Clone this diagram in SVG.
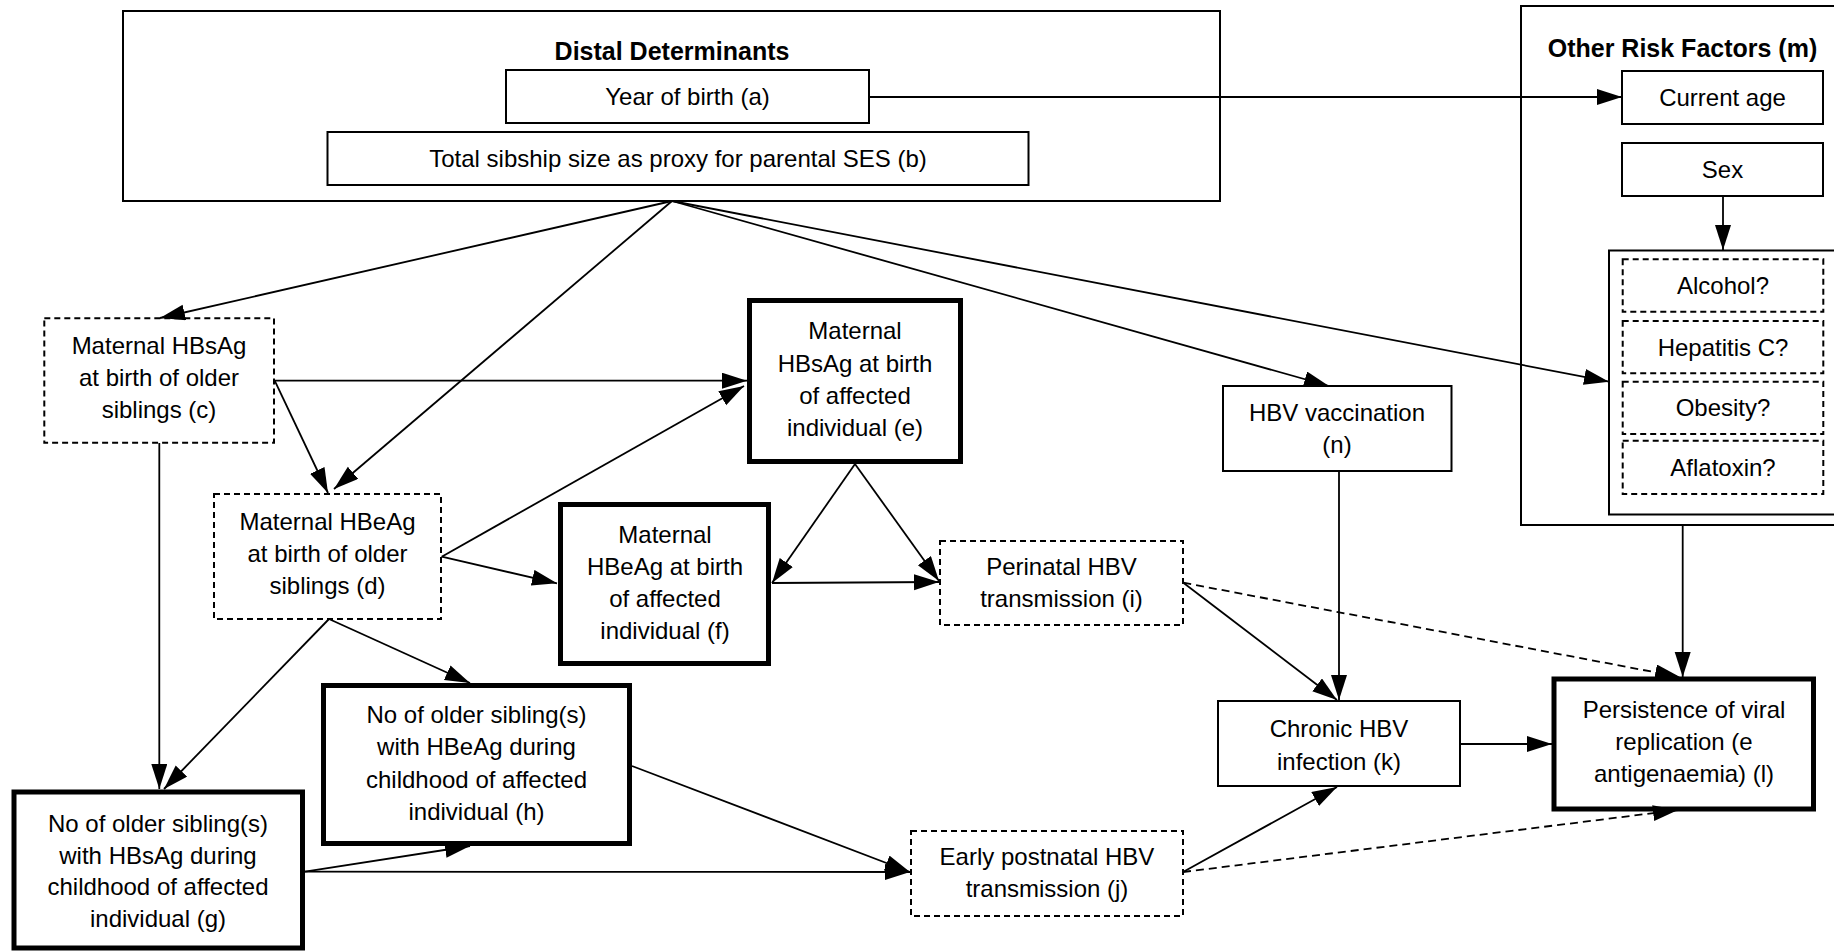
<svg xmlns="http://www.w3.org/2000/svg" width="1834" height="952" viewBox="0 0 1834 952">
<style>
.box{fill:#fff;stroke:#000;stroke-width:2}
.cont{fill:none;stroke:#000;stroke-width:2}
.thick{stroke-width:5}
.dsh{stroke-dasharray:6 4}
text{font-family:"Liberation Sans",Arial,sans-serif;font-size:24px;text-anchor:middle;fill:#000}
.ttl{font-weight:bold;font-size:25px}
.c line{stroke:#000;stroke-width:1.8;fill:none;marker-end:url(#ah)}
.c line.dl{stroke-dasharray:8 5}
</style>
<defs>
<marker id="ah" markerUnits="userSpaceOnUse" markerWidth="26" markerHeight="18" refX="25" refY="8" orient="auto" viewBox="0 0 26 18">
<path d="M0,0 L25,8 L0,16 z" fill="#000" stroke="none"/>
</marker>
</defs>
<rect width="1834" height="952" fill="#fff"/>

<g id="distal">
<rect class="cont" x="123" y="11" width="1097" height="190"/>
<text class="ttl" x="672" y="60">Distal Determinants</text>
</g>
<g id="year">
<rect class="box" x="506" y="70" width="363" height="53"/>
<text x="687.5" y="105">Year of birth (a)</text>
</g>
<g id="sibship">
<rect class="box" x="327.5" y="132" width="701" height="53"/>
<text x="678" y="167">Total sibship size as proxy for parental SES (b)</text>
</g>

<g id="other">
<rect class="cont" x="1521" y="6" width="400" height="519"/>
<text class="ttl" x="1682.5" y="57">Other Risk Factors (m)</text>
</g>
<g id="age">
<rect class="box" x="1622" y="71" width="201" height="53"/>
<text x="1722.5" y="105.5">Current age</text>
</g>
<g id="sex">
<rect class="box" x="1622" y="143" width="201" height="53"/>
<text x="1722.5" y="177.5">Sex</text>
</g>
<g id="lifestyle">
<rect class="box" x="1609" y="250.5" width="300" height="264"/>
<rect class="box dsh" x="1622.7" y="259.3" width="200.6" height="52.4"/>
<text x="1723" y="294">Alcohol?</text>
<rect class="box dsh" x="1622.7" y="321" width="200.6" height="52.3"/>
<text x="1723" y="355.5">Hepatitis C?</text>
<rect class="box dsh" x="1622.7" y="381.7" width="200.6" height="52.3"/>
<text x="1723" y="416">Obesity?</text>
<rect class="box dsh" x="1622.7" y="440.7" width="200.6" height="53.3"/>
<text x="1723" y="476">Aflatoxin?</text>
</g>

<g id="c">
<rect class="box dsh" x="44.3" y="318.3" width="229.7" height="124.4"/>
<text x="159" y="354">Maternal HBsAg</text>
<text x="159" y="386">at birth of older</text>
<text x="159" y="418">siblings (c)</text>
</g>
<g id="d">
<rect class="box dsh" x="214" y="494" width="227" height="125"/>
<text x="327.5" y="530">Maternal HBeAg</text>
<text x="327.5" y="562">at birth of older</text>
<text x="327.5" y="594">siblings (d)</text>
</g>
<g id="e">
<rect class="box thick" x="749.5" y="300.5" width="211" height="161"/>
<text x="855" y="339">Maternal</text>
<text x="855" y="371.5">HBsAg at birth</text>
<text x="855" y="403.5">of affected</text>
<text x="855" y="436">individual (e)</text>
</g>
<g id="f">
<rect class="box thick" x="560.5" y="504.5" width="208" height="159"/>
<text x="665" y="542.5">Maternal</text>
<text x="665" y="574.5">HBeAg at birth</text>
<text x="665" y="606.5">of affected</text>
<text x="665" y="638.5">individual (f)</text>
</g>
<g id="h">
<rect class="box thick" x="323.5" y="685.5" width="306" height="158"/>
<text x="476.5" y="723">No of older sibling(s)</text>
<text x="476.5" y="755">with HBeAg during</text>
<text x="476.5" y="787.5">childhood of affected</text>
<text x="476.5" y="819.5">individual (h)</text>
</g>
<g id="g">
<rect class="box thick" x="14" y="792" width="288.5" height="156"/>
<text x="158" y="831.5">No of older sibling(s)</text>
<text x="158" y="863.5">with HBsAg during</text>
<text x="158" y="895">childhood of affected</text>
<text x="158" y="926.5">individual (g)</text>
</g>
<g id="i">
<rect class="box dsh" x="940" y="541" width="243" height="84"/>
<text x="1061.5" y="575">Perinatal HBV</text>
<text x="1061.5" y="607">transmission (i)</text>
</g>
<g id="j">
<rect class="box dsh" x="911" y="831" width="272" height="85"/>
<text x="1047" y="865">Early postnatal HBV</text>
<text x="1047" y="897">transmission (j)</text>
</g>
<g id="n">
<rect class="box" x="1223" y="386" width="228.5" height="85"/>
<text x="1337" y="421">HBV vaccination</text>
<text x="1337" y="453">(n)</text>
</g>
<g id="k">
<rect class="box" x="1218" y="701" width="242" height="85"/>
<text x="1339" y="737">Chronic HBV</text>
<text x="1339" y="770">infection (k)</text>
</g>
<g id="l">
<rect class="box thick" x="1554" y="679" width="259.5" height="130"/>
<text x="1684" y="718">Persistence of viral</text>
<text x="1684" y="750">replication (e</text>
<text x="1684" y="782">antigenaemia) (l)</text>
</g>

<g id="connectors" class="c">
<line x1="869" y1="97" x2="1622" y2="97"/>
<line x1="1723" y1="196" x2="1723" y2="250"/>
<line x1="672" y1="201" x2="160" y2="318"/>
<line x1="672" y1="201" x2="334" y2="489"/>
<line x1="672" y1="201" x2="1329" y2="386"/>
<line x1="672" y1="201" x2="1609" y2="381.7"/>
<line x1="274.7" y1="380.7" x2="747" y2="380.7"/>
<line x1="274.7" y1="380.7" x2="328" y2="493"/>
<line x1="159.3" y1="443" x2="159.3" y2="789"/>
<line x1="441.7" y1="556.7" x2="744" y2="386"/>
<line x1="441.7" y1="556.7" x2="557" y2="583.3"/>
<line x1="329" y1="619" x2="164" y2="789"/>
<line x1="329" y1="619" x2="470" y2="683"/>
<line x1="855" y1="464" x2="772" y2="583"/>
<line x1="855" y1="464" x2="939" y2="581"/>
<line x1="772" y1="583" x2="939" y2="582"/>
<line x1="1339" y1="471" x2="1339" y2="700"/>
<line x1="1183.3" y1="582.7" x2="1337" y2="700"/>
<line class="dl" x1="1183.3" y1="582.7" x2="1680" y2="677"/>
<line x1="1682.7" y1="525" x2="1682.7" y2="677"/>
<line x1="1460" y1="744" x2="1552" y2="744"/>
<line x1="1183" y1="872" x2="1337" y2="787"/>
<line class="dl" x1="1183" y1="872" x2="1678" y2="810"/>
<line x1="305" y1="871.7" x2="470" y2="846"/>
<line x1="305" y1="871.7" x2="910" y2="872"/>
<line x1="632" y1="766" x2="910" y2="872"/>
</g>
</svg>
